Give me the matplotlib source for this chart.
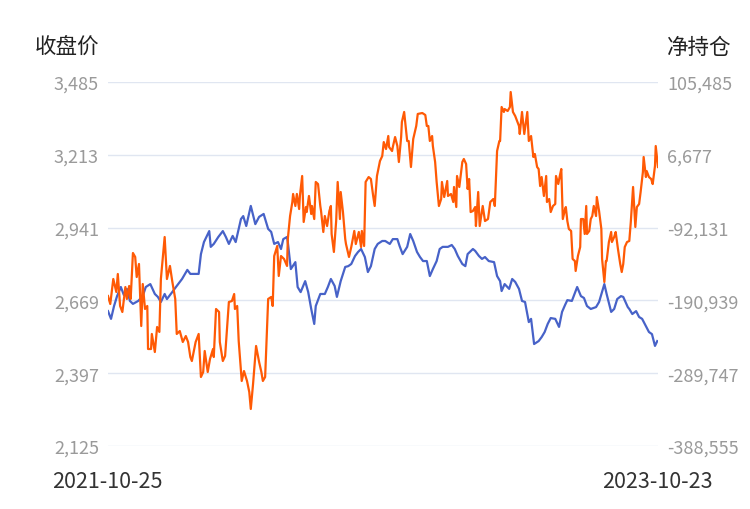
import matplotlib
matplotlib.use("Agg")
import matplotlib.pyplot as plt
import numpy as np
import pandas as pd
from matplotlib.ticker import FixedLocator, FuncFormatter

plt.rcParams['font.family'] = ['Noto Sans CJK SC', 'DejaVu Sans']

# ---------------- data ----------------
start_date = "2021-10-25"
end_date = "2023-10-23"
left_title = "收盘价"
right_title = "净持仓"
left_ticks = [2125, 2397, 2669, 2941, 3213, 3485]
right_ticks = [-388555, -289747, -190939, -92131, 6677, 105485]

# closing price (days since start, value)
price_days = [0, 4, 8, 12, 17, 21, 25, 29, 33, 40, 46, 50, 56, 62, 66, 70, 75, 78, 85, 91,
              98, 102, 105, 109, 118, 120, 123, 127, 134, 136, 140, 146, 152, 156, 160, 165, 169, 176, 179, 183,
              189, 195, 200, 206, 212, 216, 220, 225, 229, 232, 237, 238, 242, 248, 251, 255, 261, 265, 269, 273,
              275, 281, 287, 291, 295, 300, 303, 308, 314, 318, 322, 327, 331, 335, 340, 344, 348, 353, 357, 363,
              367, 373, 377, 383, 386, 390, 396, 400, 404, 409, 413, 417, 422, 426, 430, 435, 439, 443, 450, 455,
              459, 463, 469, 473, 476, 483, 486, 491, 495, 499, 504, 511, 515, 519, 521, 525, 531, 535, 539, 544,
              548, 552, 557, 560, 564, 570, 574, 578, 582, 586, 592, 597, 601, 605, 608, 614, 621, 626, 630, 634,
              639, 646, 650, 657, 660, 666, 670, 674, 679, 682, 688, 690, 694, 699, 703, 707, 712, 716, 720, 724,
              727]
price_vals = [2629, 2600, 2648, 2685, 2719, 2689, 2712, 2667, 2656, 2667, 2685, 2719, 2730, 2693, 2682, 2663, 2693, 2674, 2700, 2723,
              2749, 2768, 2783, 2768, 2768, 2768, 2842, 2887, 2928, 2869, 2880, 2906, 2928, 2906, 2880, 2910, 2887, 2973, 2984, 2947,
              3022, 2954, 2981, 2992, 2936, 2925, 2880, 2887, 2861, 2898, 2906, 2887, 2786, 2812, 2719, 2700, 2741, 2700, 2637, 2581,
              2648, 2693, 2693, 2719, 2749, 2723, 2682, 2741, 2794, 2797, 2805, 2835, 2850, 2861, 2831, 2775, 2797, 2861, 2880, 2891,
              2891, 2880, 2898, 2898, 2872, 2842, 2869, 2917, 2891, 2850, 2831, 2816, 2816, 2760, 2786, 2816, 2861, 2869, 2869, 2876,
              2861, 2835, 2805, 2797, 2842, 2861, 2854, 2835, 2824, 2831, 2816, 2812, 2760, 2741, 2704, 2730, 2712, 2749, 2738, 2712,
              2667, 2663, 2588, 2600, 2506, 2517, 2532, 2551, 2581, 2603, 2600, 2570, 2626, 2652, 2670, 2667, 2719, 2685, 2678, 2648,
              2637, 2644, 2663, 2730, 2693, 2626, 2637, 2674, 2685, 2682, 2644, 2637, 2618, 2629, 2607, 2600, 2573, 2551, 2543, 2499,
              2517]

# net position (days since start, value)
net_days = [0, 3, 7, 11, 13, 16, 19, 23, 25, 28, 30, 33, 36, 38, 41, 44, 46, 49, 52, 53,
            57, 58, 62, 65, 68, 70, 75, 78, 82, 85, 89, 91, 95, 99, 103, 106, 109, 111, 116, 120,
            123, 126, 128, 132, 135, 139, 140, 143, 147, 148, 152, 155, 158, 160, 164, 167, 168, 171, 173, 177,
            180, 184, 187, 189, 192, 196, 200, 203, 205, 208, 212, 216, 218, 220, 224, 226, 229, 233, 237, 238,
            241, 244, 245, 248, 250, 253, 254, 257, 259, 262, 263, 266, 269, 270, 273, 275, 278, 281, 282, 285,
            287, 290, 293, 295, 296, 299, 302, 304, 307, 308, 311, 314, 315, 319, 322, 326, 328, 332, 335, 336,
            339, 341, 345, 348, 351, 353, 356, 360, 363, 365, 368, 371, 372, 376, 377, 380, 383, 385, 388, 389,
            392, 394, 396, 398, 401, 404, 408, 410, 416, 420, 422, 424, 426, 429, 430, 433, 435, 438, 441, 442,
            445, 449, 450, 454, 457, 458, 461, 462, 465, 469, 471, 474, 476, 478, 480, 483, 486, 487, 490, 492,
            496, 499, 503, 506, 510, 512, 515, 518, 519, 521, 524, 525, 529, 532, 533, 536, 539, 544, 545, 548,
            551, 555, 557, 560, 563, 565, 568, 570, 572, 574, 577, 580, 581, 584, 586, 589, 592, 593, 596, 598,
            600, 602, 605, 606, 608, 610, 613, 615, 618, 619, 622, 625, 626, 629, 631, 633, 634, 637, 639, 641,
            643, 646, 647, 650, 653, 654, 657, 659, 660, 663, 666, 667, 670, 672, 675, 678, 680, 682, 684, 687,
            690, 692, 695, 698, 700, 703, 705, 708, 709, 712, 713, 716, 719, 721, 724, 725, 728]
net_vals = [-185000, -195800, -161900, -179500, -155100, -198500, -206700, -172800, -189000, -171400,
            -189000, -126600, -132000, -159200, -141500, -225700, -168700, -202600, -198500, -256900,
            -256900, -236500, -261000, -227000, -233800, -161900, -104900, -161900, -144200, -164600,
            -189000, -236500, -232500, -247400, -239300, -247400, -267800, -273200, -247400, -236500,
            -294900, -288100, -259600, -288100, -270500, -256900, -267800, -202600, -206700, -247400,
            -273200, -266400, -223000, -193100, -191800, -182300, -202600, -198500, -246000, -300300,
            -286800, -300300, -315300, -338300, -304400, -252800, -274500, -288100, -300300, -294900,
            -189000, -186300, -198500, -130700, -117100, -157800, -130700, -134700, -144200, -107600,
            -76400, -57400, -46500, -62800, -46500, -66900, -49200, -22100, -84500, -64200,
            -71000, -49200, -73700, -62800, -80500, -30200, -33000, -62800, -69600, -98100,
            -76400, -90000, -69600, -62800, -100800, -125200, -83200, -30200, -80500, -43800,
            -71000, -107600, -114400, -132000, -118500, -96700, -114400, -98100, -118500, -96700,
            -117100, -30200, -23500, -26200, -49200, -62800, -22100, -1700, 5000, 24000,
            14500, 32200, 17300, 11800, 17300, 30800, 18600, -3100, 30800, 51200,
            64800, 44400, 25400, 25400, -9900, 28100, 45800, 62100, 63400, 60700,
            45800, 45800, 25400, 32200, 18600, -3100, -30200, -62800, -53300, -30200,
            -50600, -28900, -49200, -46500, -57400, -37000, -64200, -22100, -37000, -3100,
            1000, -5800, -39700, -26200, -71000, -69600, -64200, -90000, -43800, -90000,
            -62800, -83200, -80500, -57400, -53300, -62800, 11800, 25400, 25400, 71600,
            64800, 68800, 66100, 71600, 91900, 64800, 59300, 45800, 34900, 64800,
            34900, 64800, 25400, 32200, 3700, 7800, -9900, -12600, -35700, -23500,
            -49200, -22100, -57400, -53300, -71000, -62800, -60100, -22100, -33000, -22100,
            -12600, -80500, -66900, -64200, -83200, -94000, -96700, -134700, -137500, -151000,
            -130700, -118500, -80500, -80500, -100800, -62800, -100800, -96700, -80500, -76400,
            -62800, -76400, -50600, -69600, -94000, -134700, -166000, -137500, -137500, -111700,
            -98100, -111700, -104900, -98100, -121200, -141500, -152400, -141500, -118500, -111700,
            -110300, -84500, -37000, -91300, -64200, -60100, -43800, -16700, 3700, -23500,
            -15300, -23500, -26200, -33000, -8500, 18600, -9900]

# ---------------- figure ----------------
W, H = 750, 510
fig = plt.figure(figsize=(W / 100, H / 100), dpi=100)
L, R, T, B = 108, 658, 83, 447
ax = fig.add_axes([L / W, 1 - B / H, (R - L) / W, (B - T) / H])
ax2 = ax.twinx()

t0 = pd.Timestamp(start_date)
t1 = pd.Timestamp(end_date)
px = t0 + pd.to_timedelta(price_days, unit="D")
nx = t0 + pd.to_timedelta(net_days, unit="D")

blue = "#4762C8"
orange = "#FF5A05"
ax.plot(px, price_vals, color=blue, lw=1.6, solid_joinstyle="round", zorder=3)
ax2.plot(nx, net_vals, color=orange, lw=1.6, solid_joinstyle="round", zorder=3)

ax.set_xlim(t0, t1)
ax.set_ylim(left_ticks[0], left_ticks[-1])
ax2.set_ylim(right_ticks[0], right_ticks[-1])
ax.yaxis.set_major_locator(FixedLocator(left_ticks))
ax2.yaxis.set_major_locator(FixedLocator(right_ticks))
fmt = FuncFormatter(lambda v, p: f"{int(round(v)):,}")
ax.yaxis.set_major_formatter(fmt)
ax2.yaxis.set_major_formatter(fmt)

ax.grid(axis="y", color="#E0E6F1", lw=1)
ax.set_axisbelow(True)
ax.set_xticks([])
for a in (ax, ax2):
    for s in a.spines.values():
        s.set_visible(False)
    a.tick_params(axis="y", length=0, pad=6.5, labelsize=13, labelcolor="#9A9A9A")
ax2.set_xticks([])

fig.text(99 / W, 1 - 48 / H, left_title, ha="right", va="center", fontsize=15.5, color="#222222")
fig.text(667 / W, 1 - 48 / H, right_title, ha="left", va="center", fontsize=15.5, color="#222222")
fig.text(52 / W, 1 - 482 / H, start_date, ha="left", va="center", fontsize=15.5, color="#333333")
fig.text(713 / W, 1 - 482 / H, end_date, ha="right", va="center", fontsize=15.5, color="#333333")

fig.savefig("out.png", dpi=100)
